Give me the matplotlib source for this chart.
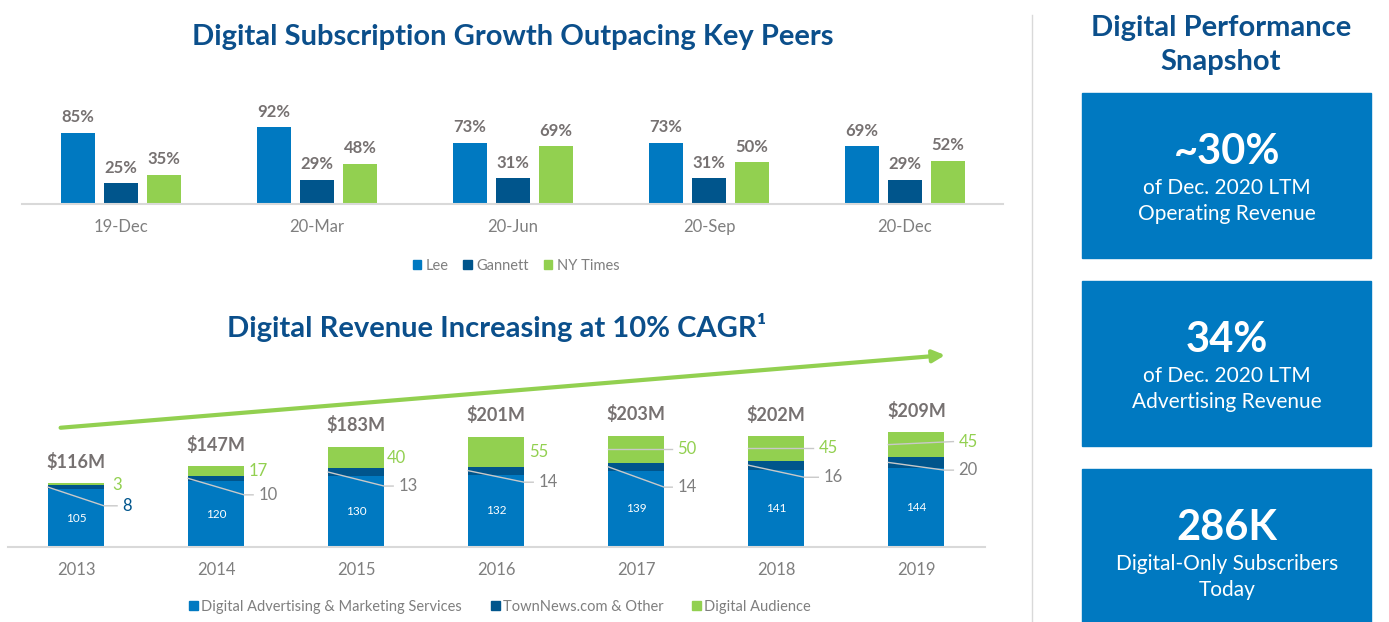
import matplotlib.pyplot as plt
from matplotlib.patches import Patch, Rectangle
from matplotlib.lines import Line2D
import numpy as np

plt.rcParams['font.family'] = ['Lato', 'DejaVu Sans']

# subscription growth (top chart)
periods = ['19-Dec', '20-Mar', '20-Jun', '20-Sep', '20-Dec']
lee = [85, 92, 73, 73, 69]
gannett = [25, 29, 31, 31, 29]
nyt = [35, 48, 69, 50, 52]

# digital revenue, $M (bottom chart)
years = ['2013', '2014', '2015', '2016', '2017', '2018', '2019']
dig_adv = [105, 120, 130, 132, 139, 141, 144]
townnews = [8, 10, 13, 14, 14, 16, 20]
audience = [3, 17, 40, 55, 50, 45, 45]

# snapshot boxes
snap_values = ['~30%', '34%', '286K']
snap_desc = ['of Dec. 2020 LTM\nOperating Revenue',
             'of Dec. 2020 LTM\nAdvertising Revenue',
             'Digital-Only Subscribers\nToday']

BLUE = '#0079C1'
NAVY = '#00558C'
GREEN = '#92D050'
GRAY = '#7F7F7F'
LBL = '#767171'
TITLE = '#0B4F8B'
RULE = '#D9D9D9'

W, H = 1389, 622
fig = plt.figure(figsize=(W / 100, H / 100), dpi=100)


def px_axes(left, top, right, bottom):
    return fig.add_axes([left / W, 1 - bottom / H, (right - left) / W, (bottom - top) / H])


def clean(ax):
    for s in ['top', 'right', 'left']:
        ax.spines[s].set_visible(False)
    ax.spines['bottom'].set_color(RULE)
    ax.spines['bottom'].set_linewidth(1.5)
    ax.set_yticks([])
    ax.tick_params(axis='x', length=0, pad=11, labelsize=12, labelcolor=GRAY)


# --- top chart ---
ax1 = px_axes(22, 95, 1003, 204)
x = np.arange(len(periods))
w, off = 0.173, 0.219
for vals, dx, col, name in [(lee, -off, BLUE, 'Lee'), (gannett, 0, NAVY, 'Gannett'), (nyt, off, GREEN, 'NY Times')]:
    b = ax1.bar(x + dx, vals, w, color=col, label=name)
    ax1.bar_label(b, labels=[f'{v}%' for v in vals], padding=5.5, fontsize=12,
                  fontweight='bold', color=LBL)
ax1.set_xlim(-0.505, 4.5)
ax1.set_ylim(0, 130.7)
ax1.set_xticks(x, periods)
clean(ax1)
fig.legend(handles=[Patch(color=BLUE, label='Lee'), Patch(color=NAVY, label='Gannett'),
                    Patch(color=GREEN, label='NY Times')],
           loc='center', bbox_to_anchor=(516 / W, 1 - 266 / H), ncol=3, frameon=False,
           fontsize=10.5, labelcolor=GRAY, handlelength=0.6, handleheight=0.6,
           handletextpad=0.3, columnspacing=1.0)

fig.text(513 / W, 1 - 37 / H, 'Digital Subscription Growth Outpacing Key Peers',
         ha='center', va='center', fontsize=21, fontweight='bold', color=TITLE)

# --- bottom chart ---
ax2 = px_axes(8, 340, 985, 547)
x2 = np.arange(len(years))
bw = 0.4
adv = np.array(dig_adv)
town = np.array(townnews)
aud = np.array(audience)
b1 = ax2.bar(x2, adv, bw, color=BLUE)
b2 = ax2.bar(x2, town, bw, bottom=adv, color=NAVY)
b3 = ax2.bar(x2, aud, bw, bottom=adv + town, color=GREEN)
ax2.bar_label(b1, label_type='center', color='white', fontsize=8.5)
totals = adv + town + aud
ax2.bar_label(b3, labels=[f'${t}M' for t in totals], padding=9, fontsize=13,
              fontweight='bold', color=LBL)

# data label placement (leader lines)
town_lab_y = [75, 95, 111, 118, 109, 127, 140]
town_lab_dx = [18, 14, 14, 14, 13, 19, 14]
aud_lab_y = [113, 138.5, 163, 173.5, 178, 179.5, 192]
aud_lab_dx = [8, 4, 3, 5, 13, 14, 14]
aud_leader = [False, False, False, False, True, True, True]
town_colors = [NAVY] + [GRAY] * 6
LEAD = '#C9C9C9'
for i in range(len(years)):
    left, right = x2[i] - bw / 2, x2[i] + bw / 2
    mid = adv[i] + town[i] / 2
    ly = town_lab_y[i]
    tx = right + town_lab_dx[i] / 140
    ax2.plot([left, right, tx - 5 / 140], [mid, ly, ly], color=LEAD, lw=1)
    ax2.text(tx, ly, str(town[i]), ha='left', va='center', fontsize=12, color=town_colors[i])

    mid = adv[i] + town[i] + aud[i] / 2
    ly = aud_lab_y[i]
    tx = right + aud_lab_dx[i] / 140
    if aud_leader[i]:
        ax2.plot([left, tx - 5 / 140], [mid, ly], color=LEAD, lw=1)
    ax2.text(tx, ly, str(aud[i]), ha='left', va='center', fontsize=12, color=GREEN)

ax2.set_xlim(-0.486, 6.49)
ax2.set_ylim(0, 377)
ax2.set_xticks(x2, years)
clean(ax2)
ax2.annotate('', xy=(0.962, 0.928), xytext=(0.051, 0.575), xycoords='axes fraction',
             arrowprops=dict(arrowstyle='-|>', color=GREEN, lw=3, mutation_scale=18))
fig.legend(handles=[Patch(color=BLUE, label='Digital Advertising & Marketing Services'),
                    Patch(color=NAVY, label='TownNews.com & Other'),
                    Patch(color=GREEN, label='Digital Audience')],
           loc='center', bbox_to_anchor=(500 / W, 1 - 607 / H), ncol=3, frameon=False,
           fontsize=10.5, labelcolor=GRAY, handlelength=0.6, handleheight=0.6,
           handletextpad=0.2, columnspacing=2.0)

fig.text(497 / W, 1 - 327 / H, 'Digital Revenue Increasing at 10% CAGR\u00b9',
         ha='center', va='center', fontsize=21, fontweight='bold', color=TITLE)

# --- right panel ---
fig.add_artist(Line2D([1032 / W, 1032 / W], [1 - 15 / H, 0], color=RULE, lw=1))
fig.text(1221 / W, 1 - 45 / H, 'Digital Performance\nSnapshot', ha='center', va='center',
         fontsize=21, fontweight='bold', color=TITLE, linespacing=1.42)
box_tops = [93, 281, 469]
for top, val, desc in zip(box_tops, snap_values, snap_desc):
    fig.add_artist(Rectangle((1082 / W, 1 - (top + 165) / H), 289 / W, 165 / H,
                             color=BLUE, transform=fig.transFigure))
    fig.text(1227 / W, 1 - (top + 59) / H, val, ha='center', va='center',
             fontsize=30, fontweight='bold', color='white')
    fig.text(1227 / W, 1 - (top + 108) / H, desc, ha='center', va='center',
             fontsize=15, color='white', linespacing=1.4)

fig.savefig('out.png', dpi=100)
